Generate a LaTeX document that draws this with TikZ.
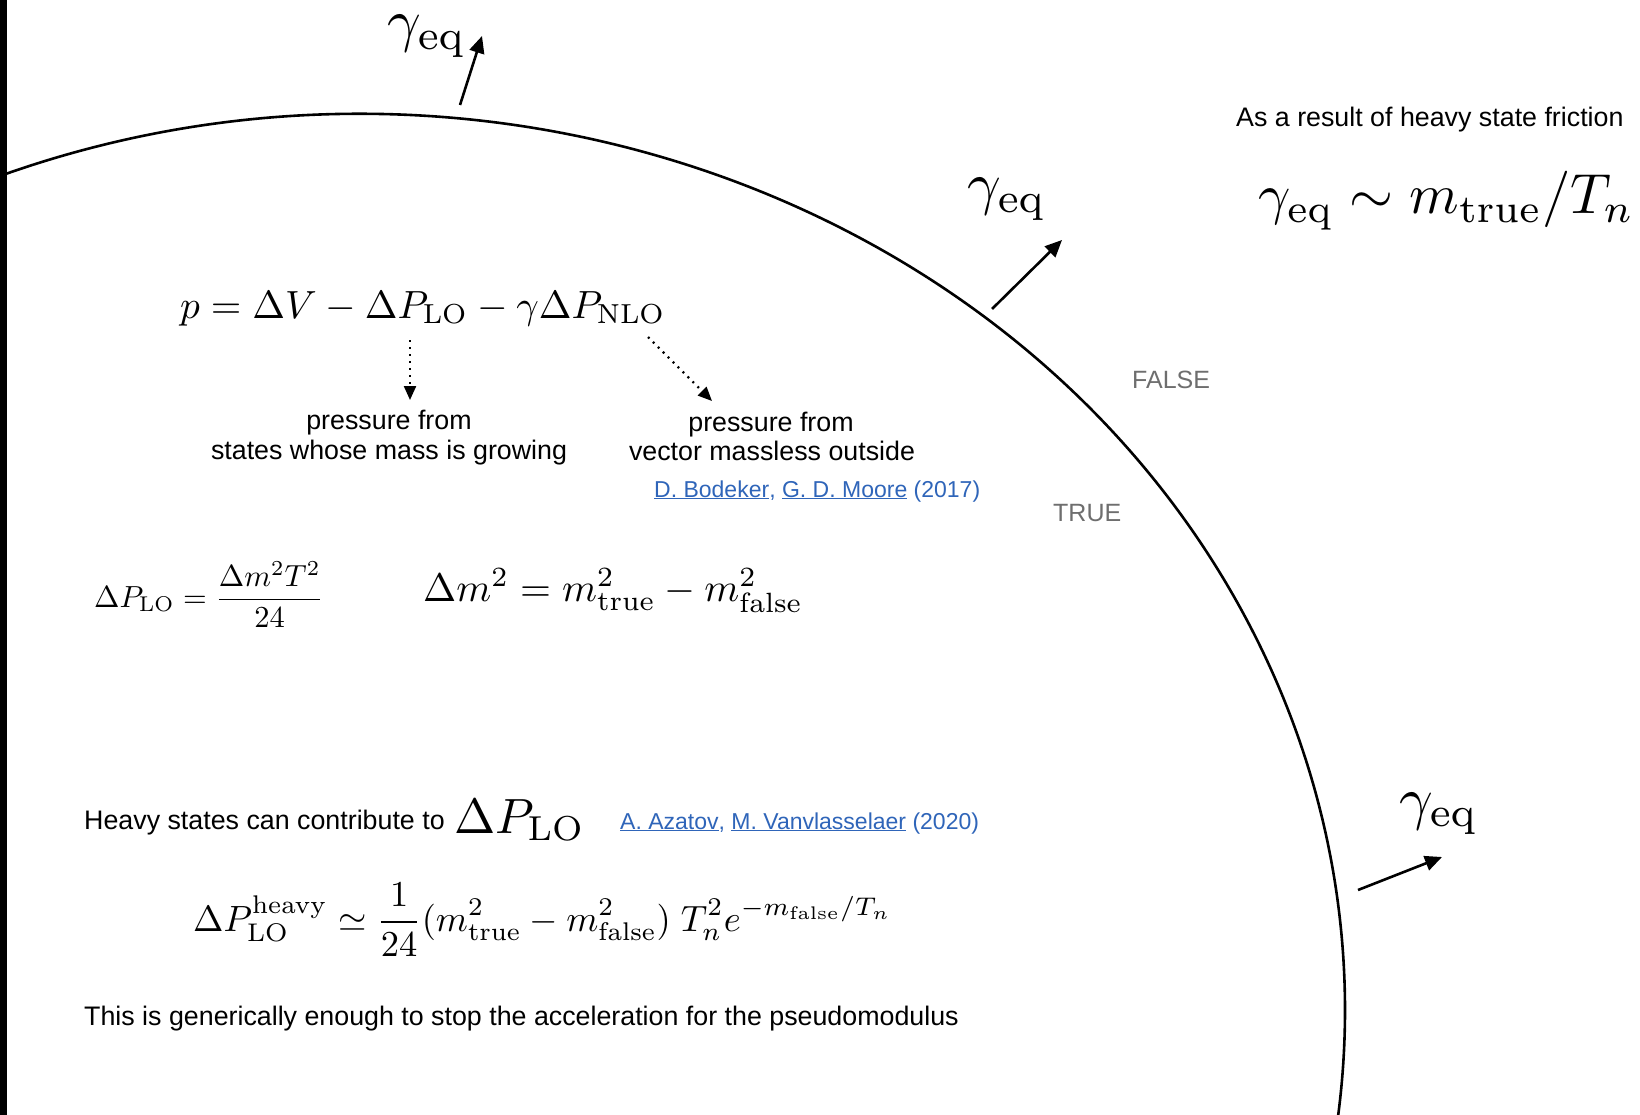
\documentclass[tikz,border=0pt]{standalone}
\usepackage{fix-cm}
\usepackage{graphicx}
\usepackage[no-math]{fontspec}
\newfontfamily\hv{Liberation Sans}
\usetikzlibrary{arrows.meta}
\definecolor{linkblue}{HTML}{2F65B9}
\definecolor{labgray}{HTML}{6E6E6E}
\newcommand{\mbig}[2]{\scalebox{#1}{\fontsize{10}{12}\selectfont$#2$}}
\begin{document}
\begin{tikzpicture}[x=1pt,y=-1pt,
  sans/.style={font=\hv\fontsize{26.8}{31}\selectfont, inner sep=0pt, anchor=base west},
  sansc/.style={sans, anchor=base},
  refs/.style={font=\hv\fontsize{23}{27}\selectfont, text=linkblue, inner sep=0pt, anchor=base west},
  vac/.style={font=\hv\fontsize{25}{29}\selectfont, text=labgray, inner sep=0pt, anchor=base west},
  mth/.style={inner sep=0pt, anchor=base west},
  wall/.style={line width=2.6pt},
  vel/.style={line width=2.6pt, -{Triangle[length=17pt,width=15pt]}},
  dotarrow/.style={line width=2.2pt, dash pattern=on 2pt off 5pt, -{Triangle[length=14pt,width=12pt]}}]
\useasboundingbox (0,0) rectangle (1640,1115);
\fill[white] (0,0) rectangle (1640,1115);
% bubble wall
\draw[wall] (360,1010) ++(247:985 and 896) arc[start angle=247, end angle=368, x radius=985, y radius=896];
\fill[black] (0,0) rectangle (7,1115);
% velocity arrows
\coordinate (t1) at (460,105); \coordinate (h1) at (482,36);
\coordinate (t2) at (992,309); \coordinate (h2) at (1062,240);
\coordinate (t3) at (1358,890); \coordinate (h3) at (1442,857);
\draw[vel] (t1) -- (h1);
\draw[vel] (t2) -- (h2);
\draw[vel] (t3) -- (h3);
\node[mth] (g1) at (387,41) {\mbig{5.9}{\gamma_{\mathrm{eq}}}};
\node[mth] (g2) at (967,204) {\mbig{5.9}{\gamma_{\mathrm{eq}}}};
\node[mth] (g3) at (1399,818) {\mbig{5.9}{\gamma_{\mathrm{eq}}}};
% right side
\node[sans] (res) at (1236,127) {As a result of heavy state friction};
\node[mth] (gres) at (1258,214) {\mbig{5.65}{\gamma_{\mathrm{eq}} \sim m_{\mathrm{true}}/T_n}};
\node[vac] (false) at (1132,388) {FALSE};
\node[vac] (true) at (1053,521) {TRUE};
% pressure equation
\node[mth] (peq) at (180,318) {\mbig{3.93}{p = \Delta V - \Delta P_{\mathrm{LO}} - \gamma\Delta P_{\mathrm{NLO}}}};
\coordinate (d1s) at (410,340); \coordinate (d1e) at (410,400);
\coordinate (d2s) at (648,337); \coordinate (d2e) at (712,401);
\draw[dotarrow] (d1s) -- (d1e);
\draw[dotarrow] (d2s) -- (d2e);
\node[sansc] (lp1) at (389,429) {pressure from};
\node[sansc] (lp2) at (389,459) {states whose mass is growing};
\node[sansc] (rp1) at (771,431) {pressure from};
\node[sansc] (rp2) at (772,460) {vector massless outside};
\node[refs] (ref1) at (654,497) {\underline{D. Bodeker}, \underline{G. D. Moore} (2017)};
% LO pressure
\node[mth] (dplo) at (94,607) {\mbig{3.05}{\displaystyle \Delta P_{\mathrm{LO}} = \frac{\Delta m^2 T^2}{24}}};
\node[mth] (dm2) at (423,601) {\mbig{3.98}{\Delta m^2 = m^2_{\mathrm{true}} - m^2_{\mathrm{false}}}};
% heavy states
\node[sans] (heavy) at (84,829) {Heavy states can contribute to\hspace{10pt}\raisebox{-4pt}{\mbig{4.95}{\Delta P_{\mathrm{LO}}}}};
\node[refs] (ref2) at (620,829) {\underline{A. Azatov}, \underline{M. Vanvlasselaer} (2020)};
\node[mth] (heq) at (193,931) {\mbig{3.65}{\displaystyle \Delta P^{\mathrm{heavy}}_{\mathrm{LO}} \simeq \frac{1}{24}(m^2_{\mathrm{true}} - m^2_{\mathrm{false}})\; T_n^2 e^{-m_{\mathrm{false}}/T_n}}};
\node[sans] (concl) at (84,1025) {This is generically enough to stop the acceleration for the pseudomodulus};
\end{tikzpicture}
\end{document}
